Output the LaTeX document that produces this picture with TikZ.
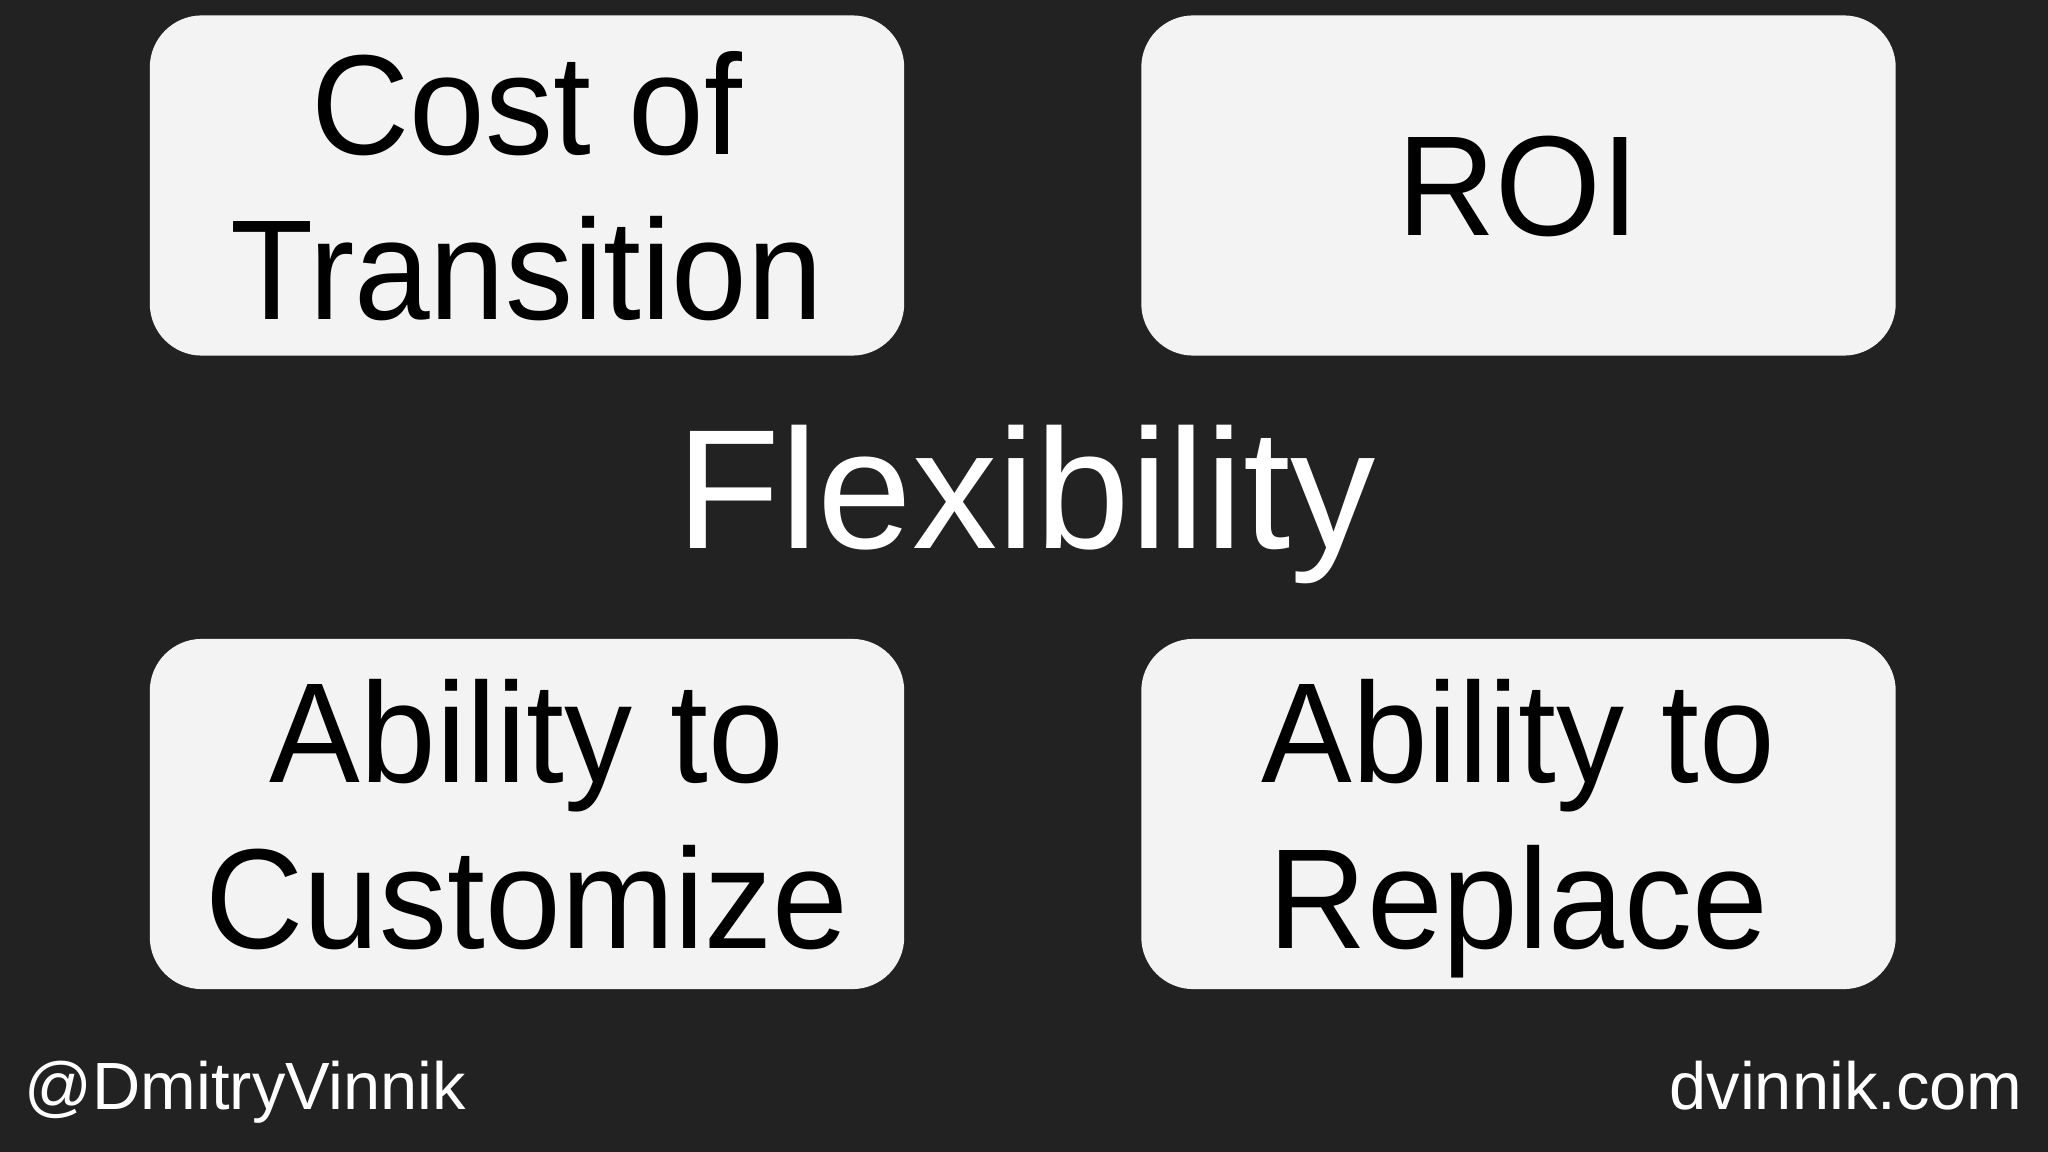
\documentclass[tikz,border=0pt]{standalone}
\usepackage{fontspec}
\setmainfont{Liberation Sans}
\newfontfamily\cardfont[FakeStretch=0.955]{Liberation Sans}
\definecolor{bg}{HTML}{222222}
\definecolor{boxfill}{HTML}{F3F3F3}
\begin{document}
\begin{tikzpicture}[x=0.01cm,y=-0.01cm,
  card/.style={draw=none,fill=boxfill,rounded corners=0.52cm,minimum width=7.54cm,minimum height=3.40cm,inner sep=0pt,text depth=0pt,align=center,text=black,font=\cardfont\fontsize{40.5}{47}\selectfont},
  foot/.style={text=white,font=\fontsize{19}{22}\selectfont,inner sep=0pt}]
\fill[bg] (0,0) rectangle (2048,1152);
\useasboundingbox (0,0) rectangle (2048,1152);
\node[card] (cost) at (527,185.5) {Cost of\\Transition};
\node[card] (roi) at (1518.5,185.5) {ROI};
\node[card,minimum height=3.50cm] (cust) at (527,814) {Ability to\\Customize};
\node[card,minimum height=3.50cm] (repl) at (1518.5,814) {Ability to\\Replace};
\node[text=white,inner sep=0pt,anchor=base,font=\fontsize{48.4}{56}\selectfont] (flex) at (1026,549) {Flexibility};
\node[foot,anchor=base west] (handle) at (24,1109) {@DmitryVinnik};
\node[foot,anchor=base east] (site) at (2023,1109) {dvinnik.com};
\end{tikzpicture}
\end{document}
